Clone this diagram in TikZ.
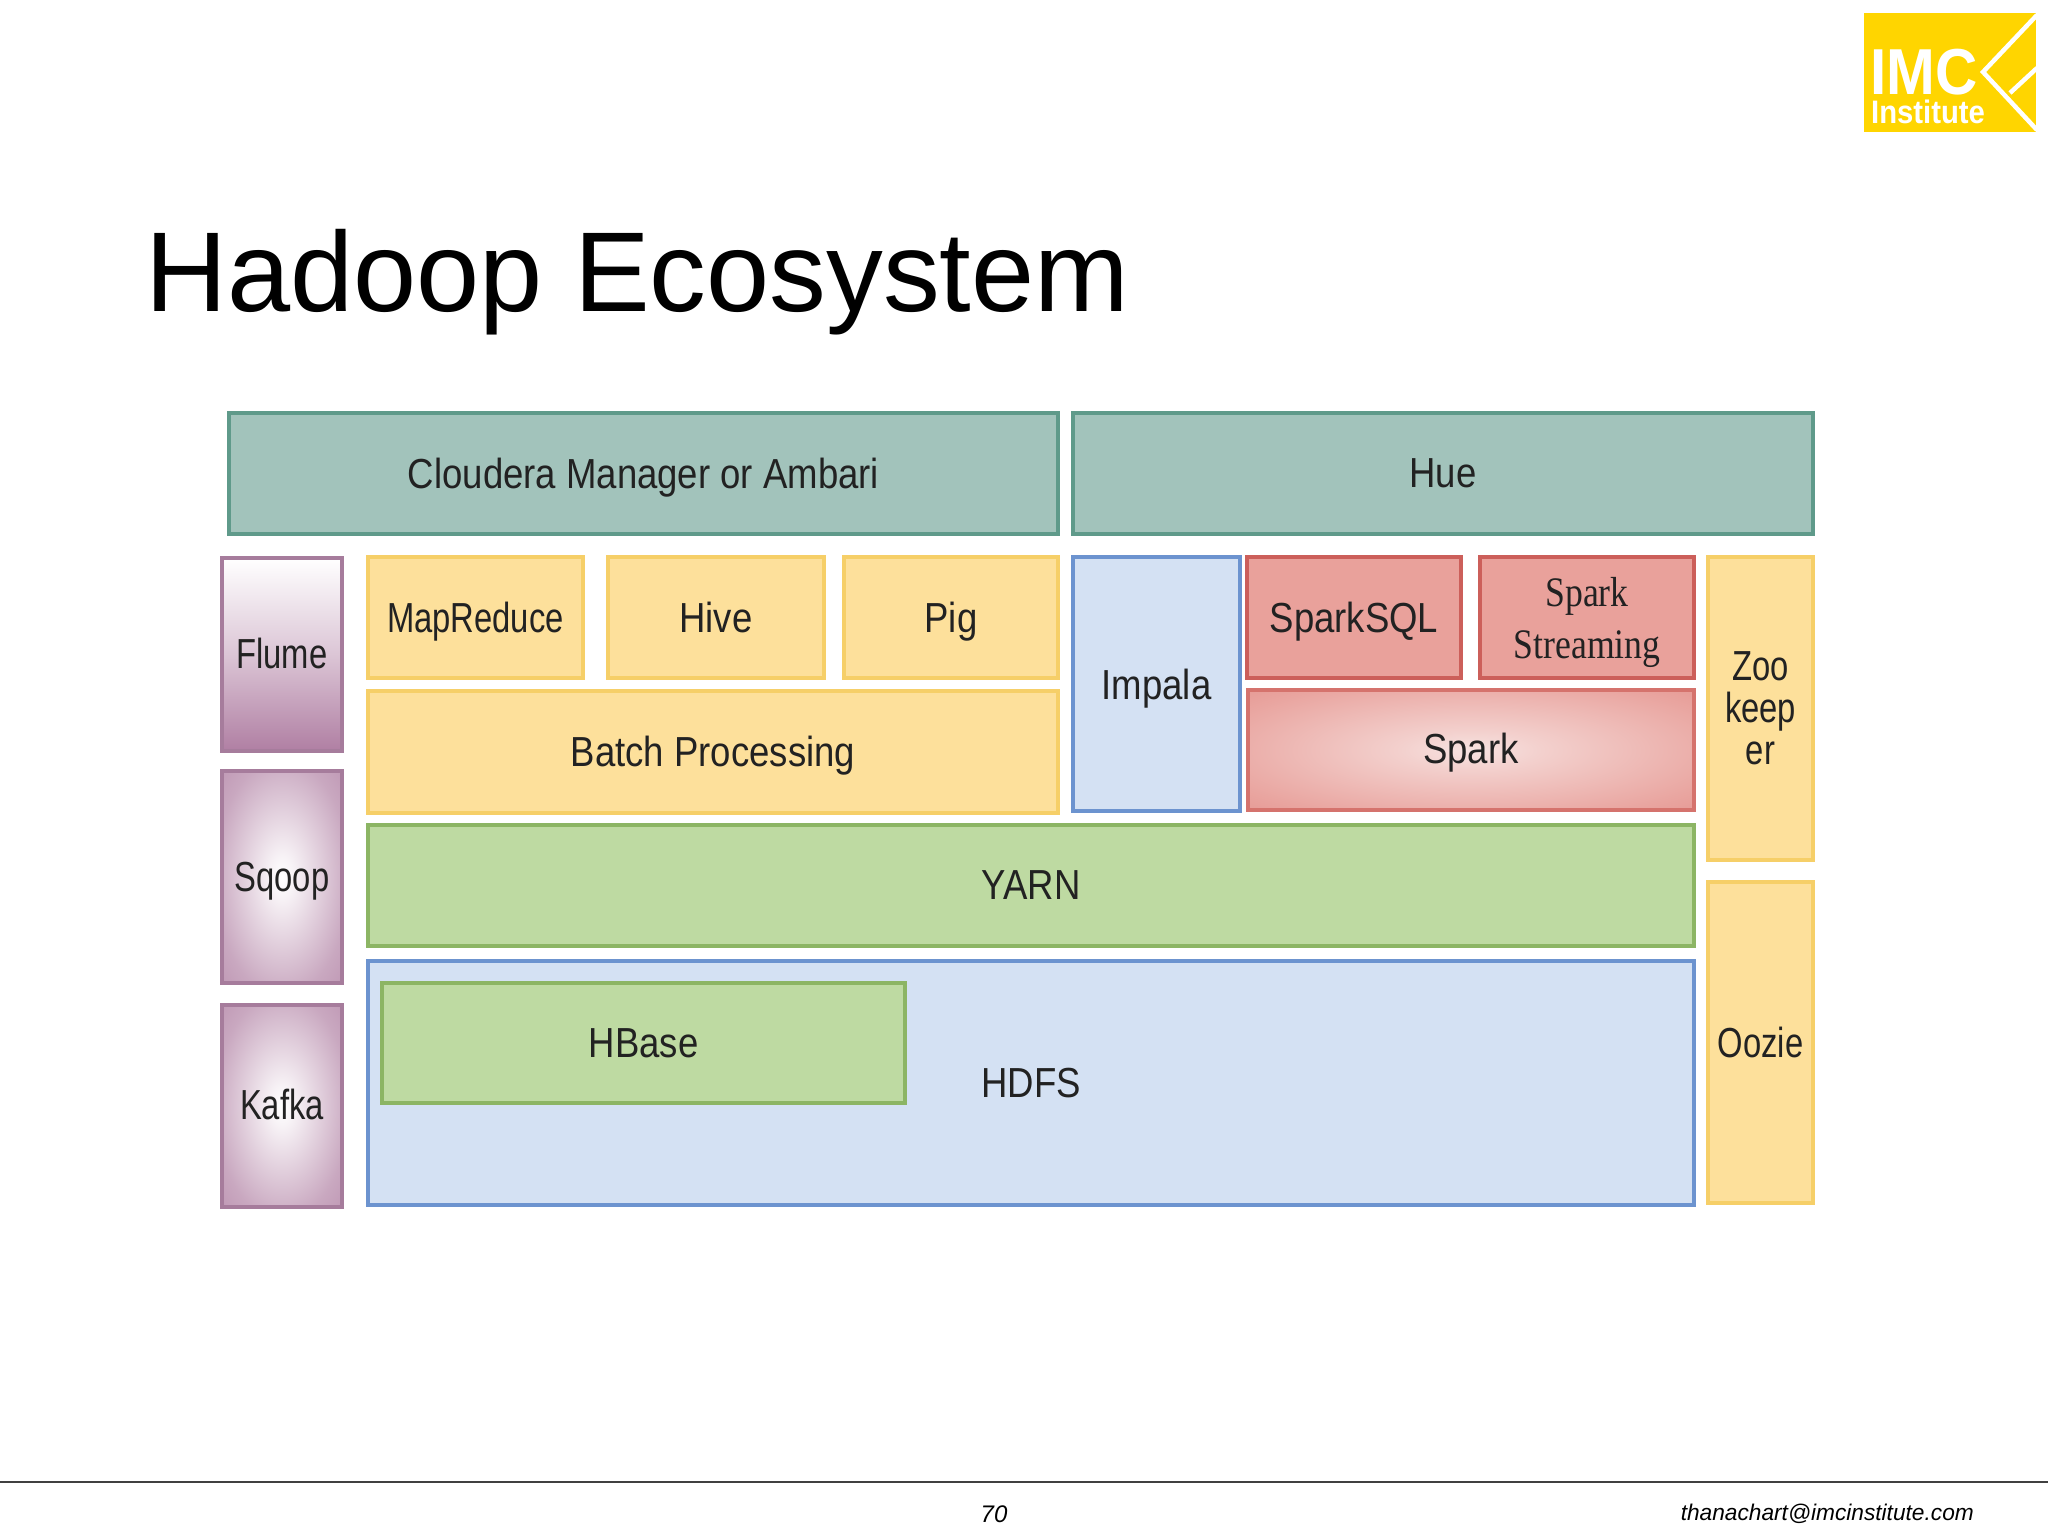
\documentclass[tikz,border=0pt]{standalone}
\usepackage{fontspec}
\setmainfont{Liberation Sans}
\newfontfamily\labfont[FakeStretch=0.87]{Liberation Sans}
\newfontfamily\narrowfont[FakeStretch=0.78]{Liberation Sans}
\newfontfamily\serfont[FakeStretch=0.85]{Liberation Serif}
\newfontfamily\logofont[FakeStretch=0.9]{Liberation Sans}
\definecolor{tealf}{HTML}{A2C3BB}\definecolor{teald}{HTML}{5F9A8A}
\definecolor{yelf}{HTML}{FDE09B}\definecolor{yeld}{HTML}{F6CF68}
\definecolor{grnf}{HTML}{BEDAA2}\definecolor{grnd}{HTML}{8CB564}
\definecolor{bluf}{HTML}{D4E1F3}\definecolor{blud}{HTML}{6C93CF}
\definecolor{redf}{HTML}{E9A19B}\definecolor{redd}{HTML}{CC5F5A}
\definecolor{purf}{HTML}{B07FA3}\definecolor{purd}{HTML}{A67C9C}
\definecolor{logoy}{HTML}{FFD500}\definecolor{labc}{HTML}{222222}
\definecolor{spc}{HTML}{F7E3E1}\definecolor{spm}{HTML}{F3D0CD}\definecolor{spe}{HTML}{E9A5A0}\definecolor{spo}{HTML}{DF827D}
\definecolor{pum}{HTML}{C9A8C0}
\pgfdeclareradialshading{softpurple}{\pgfpoint{0bp}{0bp}}{color(0bp)=(white); color(5bp)=(white!90!purf); color(28bp)=(pum); color(50bp)=(purf)}
\pgfdeclareradialshading{softred}{\pgfpoint{0bp}{0bp}}{color(0bp)=(spc); color(8bp)=(spm); color(30bp)=(spe); color(50bp)=(spo)}
\tikzset{
  cellbox/.style={draw,line width=3.5pt,inner sep=0pt,outer sep=0pt,align=center,text=labc,text depth=0pt,
     font=\labfont\fontsize{42}{42}\selectfont},
  narrowtext/.style={font=\narrowfont\fontsize{42}{42}\selectfont},
  tealbox/.style={cellbox,draw=teald,fill=tealf},
  yelbox/.style={cellbox,draw=yeld,fill=yelf},
  grnbox/.style={cellbox,draw=grnd,fill=grnf},
  blubox/.style={cellbox,draw=blud,fill=bluf},
  redbox/.style={cellbox,draw=redd,fill=redf},
  flumebox/.style={cellbox,narrowtext,draw=purd,top color=white,bottom color=purf,middle color=purf!45!white},
  purbox/.style={cellbox,narrowtext,draw=purd,shading=softpurple},
  sparkbox/.style={cellbox,draw=redd!70!redf,shading=softred},
  footer/.style={font=\itshape\fontsize{24}{24}\selectfont,text=black,inner sep=0pt}
}
\newcommand{\cellat}[7]{%
  \pgfmathsetmacro{\cw}{#5-#3}\pgfmathsetmacro{\ch}{#6-#4}%
  \pgfmathsetmacro{\cx}{(#3+#5)/2}\pgfmathsetmacro{\cy}{(#4+#6)/2}%
  \node[#2,minimum width=\cw pt,minimum height=\ch pt] (#1) at (\cx,\cy) {#7};}
\begin{document}
\begin{tikzpicture}[x=1pt,y=-1pt]
\useasboundingbox[fill=white] (0,0) rectangle (2048,1536);
% logo
\fill[logoy] (1864,13) rectangle (2036,132);
\draw[white,line width=4.5pt] (2037,15) -- (1983,72) -- (2037,130);
\draw[white,line width=4.5pt] (2037,68) -- (2010,93);
\node[text=white,inner sep=0pt,anchor=base west,font=\logofont\bfseries\fontsize{65}{65}\selectfont] (logoa) at (1870,95) {IMC};
\node[text=white,inner sep=0pt,anchor=base west,font=\logofont\bfseries\fontsize{32.5}{32.5}\selectfont] (logob) at (1871,124) {Institute};
% title
\node[inner sep=0pt,anchor=base west,font=\fontsize{113.5}{113.5}\selectfont] (title) at (145,311) {Hadoop Ecosystem};
% boxes
\cellat{cm}{tealbox}{229}{413}{1058}{534}{Cloudera Manager or Ambari}
\cellat{hue}{tealbox}{1073}{413}{1813}{534}{Hue}
\cellat{flume}{flumebox}{222}{558}{342}{751}{\raisebox{3pt}{Flume}}
\cellat{sqoop}{purbox}{222}{771}{342}{983}{Sqoop}
\cellat{kafka}{purbox}{222}{1005}{342}{1207}{\raisebox{3pt}{Kafka}}
\cellat{mr}{yelbox,narrowtext}{368}{557}{583}{678}{MapReduce}
\cellat{hive}{yelbox}{608}{557}{824}{678}{Hive}
\cellat{pig}{yelbox}{844}{557}{1058}{678}{Pig}
\cellat{batch}{yelbox}{368}{691}{1058}{813}{\raisebox{1pt}{Batch Processing}}
\cellat{impala}{blubox}{1073}{557}{1240}{811}{Impala}
\cellat{sql}{redbox}{1247}{557}{1461}{678}{SparkSQL}
\cellat{stream}{redbox,font=\serfont\fontsize{42}{52}\selectfont}{1480}{557}{1694}{678}{Spark\\Streaming}
\cellat{spark}{sparkbox}{1248}{690}{1694}{810}{\raisebox{3pt}{Spark}}
\cellat{yarn}{grnbox}{368}{825}{1694}{946}{YARN}
\cellat{hdfs}{blubox}{368}{961}{1694}{1205}{HDFS}
\cellat{hbase}{grnbox}{382}{983}{905}{1103}{HBase}
\cellat{zoo}{yelbox,narrowtext}{1708}{557}{1813}{860}{Zoo\\keep\\er}
\cellat{oozie}{yelbox,narrowtext}{1708}{882}{1813}{1203}{Oozie}
% footer
\coordinate (fl) at (0,1482);
\coordinate (fr) at (2048,1482);
\draw[color=black!75,line width=1.5pt] (fl) -- (fr);
\node[footer] (page) at (994,1514) {70};
\node[footer,anchor=east,font=\itshape\fontsize{22.7}{24}\selectfont] (mail) at (1974,1514) {thanachart@imcinstitute.com};
\end{tikzpicture}
\end{document}
